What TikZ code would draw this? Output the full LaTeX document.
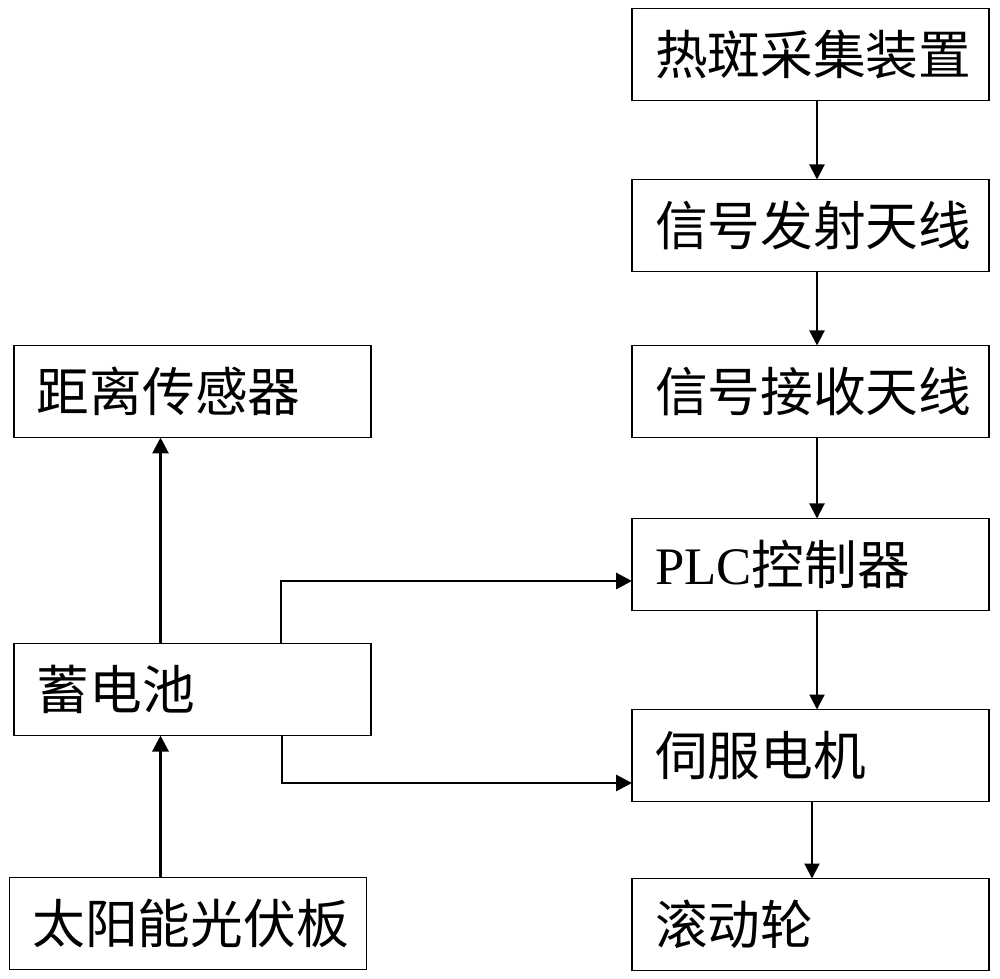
\documentclass[tikz,border=0pt]{standalone}
\usepackage{fontspec}
\setmainfont{Liberation Serif}
\newfontfamily\cjk{Noto Sans CJK SC}
\usetikzlibrary{positioning, arrows.meta}

\tikzset{
    blk/.style={draw, line width=0.8pt, outer sep=0pt, minimum height=1.84cm, text width=6.22cm,
        inner xsep=0.46cm, align=left, font=\cjk\fontsize{30}{34}\selectfont},
    arr/.style={line width=1.2pt, -{Triangle[length=0.3cm, width=0.3cm]}},
    link/.style={line width=1.7pt, -{Triangle[length=0.32cm, width=0.32cm]}}
}

\begin{document}
\begin{tikzpicture}

    \useasboundingbox (0,0) rectangle (20,-19.58);

    % Right column
    \node (H) [blk] at (16.21,-1.09) {热斑采集装置};
    \node (TX) [blk, below=1.58cm of H] {信号发射天线};
    \node (RX) [blk, below=1.48cm of TX] {信号接收天线};
    \node (PLC) [blk, below=1.62cm of RX] {{\rmfamily PLC}控制器};
    \node (SM) [blk, below=1.98cm of PLC] {伺服电机};
    \node (W) [blk, below=1.54cm of SM] {滚动轮};

    % Left column
    \node (D) [blk, left=5.22cm of RX] {距离传感器};
    \node (B) [blk, below=4.12cm of D] {蓄电池};
    \node (S) [blk, below=2.84cm of B, xshift=-0.09cm] {太阳能光伏板};

    \draw[arr] ([xshift=0.13cm]H.south) -- ([xshift=0.13cm]TX.north);
    \draw[arr] ([xshift=0.13cm]TX.south) -- ([xshift=0.13cm]RX.north);
    \draw[arr] ([xshift=0.13cm]RX.south) -- ([xshift=0.13cm]PLC.north);
    \draw[arr] ([xshift=0.13cm]PLC.south) -- ([xshift=0.13cm]SM.north);
    \draw[arr] ([xshift=0.03cm]SM.south) -- ([xshift=0.03cm]W.north);

    \draw[link] ([xshift=-0.64cm]B.north) -- ([xshift=-0.64cm]D.south);
    \draw[link] ([xshift=-0.64cm]B.south |- S.north) -- ([xshift=-0.64cm]B.south);

    % Battery to PLC and servo
    \draw[link] ([xshift=-1.8cm]B.north east) |- ([yshift=-0.33cm]PLC.west);
    \draw[link] ([xshift=-1.78cm]B.south east) |- ([yshift=-0.55cm]SM.west);

\end{tikzpicture}
\end{document}
